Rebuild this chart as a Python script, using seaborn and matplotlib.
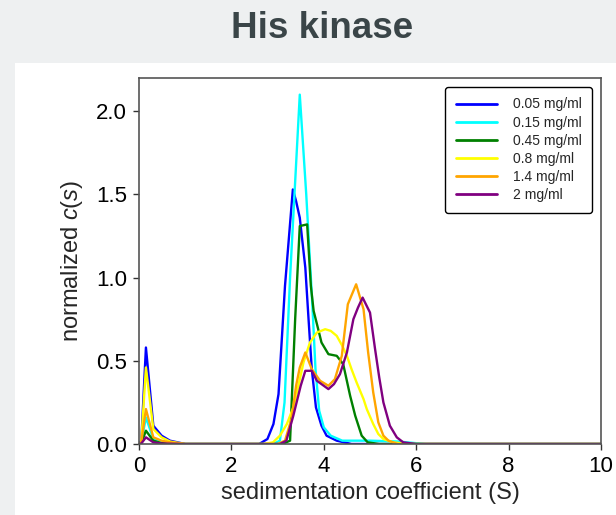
import matplotlib
matplotlib.use('Agg')
import pandas as pd
import seaborn as sns
import matplotlib.pyplot as plt
from matplotlib.patches import Rectangle

# c(s) distributions
labels = ['0.05 mg/ml', '0.15 mg/ml', '0.45 mg/ml', '0.8 mg/ml', '1.4 mg/ml', '2 mg/ml']
colors = ['blue', 'cyan', 'green', 'yellow', 'orange', 'purple']

s_005 = [0, 0.05, 0.15, 0.31, 0.49, 0.67, 1.0, 2.6, 2.78, 2.91, 3.02, 3.16, 3.33, 3.40, 3.48,
         3.60, 3.67, 3.74, 3.83, 3.95, 4.06, 4.28, 4.6, 10]
c_005 = [0, 0.02, 0.58, 0.11, 0.05, 0.02, 0, 0, 0.03, 0.12, 0.3, 0.95, 1.53, 1.46, 1.36,
         1.06, 0.75, 0.45, 0.22, 0.11, 0.05, 0.02, 0, 0]

s_015 = [0, 0.05, 0.15, 0.31, 0.49, 0.67, 1.0, 2.9, 3.05, 3.15, 3.27, 3.48, 3.62, 3.75, 3.82,
         3.9, 4.0, 4.15, 4.4, 5.0, 5.6, 6.2, 10]
c_015 = [0, 0.01, 0.16, 0.03, 0.01, 0.005, 0, 0, 0.02, 0.25, 1.0, 2.10, 1.5, 0.85, 0.45,
         0.2, 0.1, 0.05, 0.02, 0.02, 0.015, 0, 0]

s_045 = [0, 0.05, 0.15, 0.31, 0.49, 1.0, 3.1, 3.27, 3.38, 3.48, 3.64, 3.72, 3.78, 3.87, 3.95,
         4.1, 4.28, 4.42, 4.57, 4.68, 4.82, 4.95, 5.2, 10]
c_045 = [0, 0.005, 0.08, 0.02, 0.005, 0, 0, 0.02, 0.75, 1.31, 1.32, 0.95, 0.8, 0.7, 0.61,
         0.54, 0.53, 0.48, 0.29, 0.17, 0.05, 0.01, 0, 0]

s_08 = [0, 0.05, 0.15, 0.31, 0.49, 0.67, 1.0, 2.7, 2.9, 3.05, 3.2, 3.34, 3.45, 3.56, 3.7,
        3.85, 4.03, 4.15, 4.28, 4.4, 4.5, 4.6, 4.71, 4.86, 4.93, 5.07, 5.18, 5.29, 5.5, 5.8, 10]
c_08 = [0, 0.015, 0.46, 0.09, 0.04, 0.015, 0, 0, 0.01, 0.05, 0.12, 0.22, 0.35, 0.49, 0.61,
        0.67, 0.69, 0.68, 0.65, 0.59, 0.53, 0.45, 0.37, 0.27, 0.21, 0.12, 0.06, 0.03, 0.01, 0, 0]

s_14 = [0, 0.05, 0.15, 0.31, 0.49, 0.67, 1.0, 3.0, 3.16, 3.3, 3.4, 3.48, 3.6, 3.74, 3.92,
        4.1, 4.24, 4.39, 4.52, 4.7, 4.86, 4.96, 5.07, 5.18, 5.29, 5.4, 5.6, 10]
c_14 = [0, 0.01, 0.21, 0.04, 0.02, 0.01, 0, 0, 0.02, 0.15, 0.35, 0.46, 0.55, 0.45, 0.38,
        0.35, 0.39, 0.53, 0.84, 0.96, 0.81, 0.55, 0.31, 0.13, 0.05, 0.02, 0, 0]

s_2 = [0, 0.05, 0.15, 0.31, 0.49, 1.0, 3.05, 3.19, 3.34, 3.5, 3.6, 3.74, 3.85, 3.95, 4.1,
       4.22, 4.35, 4.5, 4.64, 4.74, 4.84, 5.0, 5.11, 5.2, 5.29, 5.43, 5.58, 5.72, 6.0, 10]
c_2 = [0, 0.003, 0.04, 0.01, 0.003, 0, 0, 0.02, 0.17, 0.35, 0.44, 0.44, 0.38, 0.36, 0.33,
       0.36, 0.42, 0.55, 0.75, 0.82, 0.88, 0.79, 0.57, 0.4, 0.25, 0.11, 0.04, 0.01, 0, 0]

xticks = [0, 2, 4, 6, 8, 10]
yticks = [0.0, 0.5, 1.0, 1.5, 2.0]

series = [(s_005, c_005), (s_015, c_015), (s_045, c_045), (s_08, c_08), (s_14, c_14), (s_2, c_2)]

sns.set_style('ticks')
plt.rcParams['font.family'] = ['Liberation Sans', 'DejaVu Sans']
plt.rcParams['mathtext.fontset'] = 'custom'
plt.rcParams['mathtext.it'] = 'Liberation Sans:italic'
plt.rcParams['mathtext.rm'] = 'Liberation Sans'

fig = plt.figure(figsize=(6.16, 5.15), dpi=100, facecolor='#eef0f1')
# white card behind the chart
fig.patches.append(Rectangle((15 / 616, 0), 1, 1 - 63 / 515, transform=fig.transFigure,
                             facecolor='white', edgecolor='none', zorder=-10))
fig.text(322.5 / 616, 1 - 37.7 / 515, 'His kinase', ha='center', va='baseline',
         fontsize=26.5, fontweight='bold', color='#3a4548')

ax = fig.add_axes([139 / 616, 1 - 444 / 515, 462 / 616, 366 / 515])
ax.set_zorder(5)
for (s, c), lab, col in zip(series, labels, colors):
    df = pd.DataFrame({'s': s, 'c': c})
    sns.lineplot(data=df, x='s', y='c', color=col, label=lab, linewidth=1.7,
                 sort=False, estimator=None, ax=ax)

ax.set_xlim(0, 10)
ax.set_ylim(0, 2.2)
ax.set_xticks(xticks)
ax.set_yticks(yticks)
ax.set_yticklabels([f'{t:.1f}' for t in yticks])
ax.tick_params(labelsize=16, length=4.5, width=1, pad=4, colors='#333333', labelcolor='black')
ax.set_xlabel('sedimentation coefficient (S)', fontsize=17)
ax.set_ylabel('normalized $c$($s$)', fontsize=17, labelpad=8)
for sp in ax.spines.values():
    sp.set_color('#555555')
    sp.set_linewidth(1.2)

leg = ax.legend(loc='upper right', fontsize=10, handlelength=3.0, handletextpad=1.1,
                labelspacing=0.3, borderpad=0.75, borderaxespad=0.65, frameon=True,
                fancybox=True)
leg.get_frame().set_edgecolor('black')
leg.get_frame().set_alpha(1)
for h in leg.get_lines():
    h.set_linewidth(2)

fig.savefig('out.png', dpi=100, facecolor=fig.get_facecolor())
